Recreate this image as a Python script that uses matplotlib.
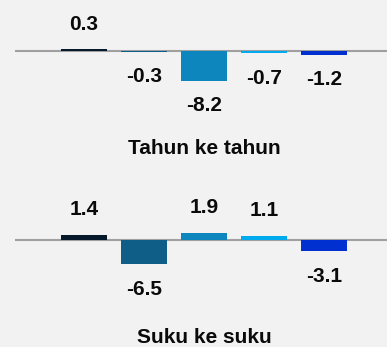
import numpy as np
import matplotlib.pyplot as plt

plt.rcParams['font.family'] = ['Liberation Sans', 'DejaVu Sans']

yoy = [0.3, -0.3, -8.2, -0.7, -1.2]
qoq = [1.4, -6.5, 1.9, 1.1, -3.1]
titles = ['Tahun ke tahun', 'Suku ke suku']
colors = ['#061a2b', '#0f5e88', '#0c86bd', '#00aaee', '#0030d0']

W, H = 387, 347
fig = plt.figure(figsize=(W / 100, H / 100), dpi=100)
fig.patch.set_facecolor('#f2f2f2')

scale = 3.7  # px per unit
# (top px, bottom px, baseline px, title offset px) of each panel
panels = [(0, 175, 50.5, 98.5), (175, 347, 240, 97.5)]

x = np.arange(5)
for vals, title, (top, bot, base, toff) in zip([yoy, qoq], titles, panels):
    ax = fig.add_axes([15 / W, 1 - bot / H, 372 / W, (bot - top) / H])
    ax.set_facecolor('#f2f2f2')
    ax.axhline(0, color='#a0a0a0', lw=1.5, zorder=1)
    ax.bar(x, vals, width=0.78, color=colors, zorder=2)
    for xi, v in zip(x, vals):
        off = 18 if v > 0 else -18
        ax.annotate(f'{v:.1f}', (xi, v), xytext=(0, off), textcoords='offset points',
                    ha='center', va='center', fontsize=15, fontweight='bold',
                    color='#0a0a0a')
    ax.text(2, -toff / scale, title, ha='center', va='center', fontsize=15,
            fontweight='bold', color='#0a0a0a')
    ax.set_xlim(-1.15, 5.05)
    ax.set_ylim(-(bot - base) / scale, (base - top) / scale)
    ax.axis('off')

plt.savefig('out.png', dpi=100, facecolor=fig.get_facecolor())
